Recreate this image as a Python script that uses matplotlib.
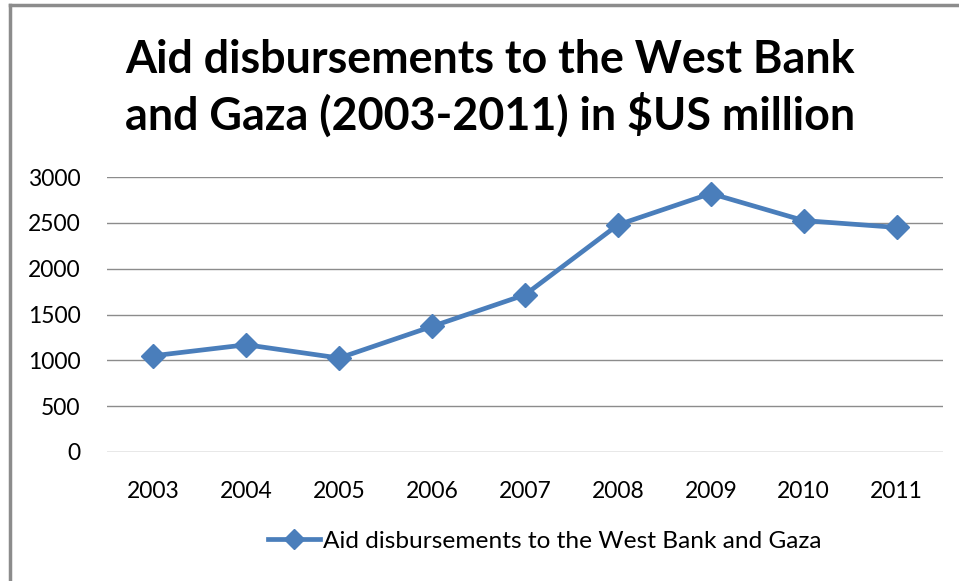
import matplotlib
matplotlib.use("Agg")
import matplotlib.pyplot as plt
from matplotlib.lines import Line2D

plt.rcParams['font.family'] = ['Lato', 'DejaVu Sans']

# data
years = ['2003', '2004', '2005', '2006', '2007', '2008', '2009', '2010', '2011']
aid = [1050, 1170, 1025, 1370, 1715, 2478, 2820, 2525, 2450]
series_name = 'Aid disbursements to the West Bank and Gaza'
title = 'Aid disbursements to the West Bank\nand Gaza (2003-2011) in $US million'

blue = '#4A7EBB'
grid_col = '#8C8C8C'

fig = plt.figure(figsize=(9.59, 5.81), dpi=100)
ax = fig.add_axes([107 / 959, 1 - 452 / 581, 836 / 959, 275 / 581])

x = list(range(len(years)))
ax.plot(x, aid, color=blue, lw=3.4, marker='D', ms=12, mec=blue, mfc=blue,
        solid_joinstyle='round', zorder=3)

ax.set_xlim(-0.5, len(years) - 0.5)
ax.set_ylim(0, 3000)
ax.set_yticks(range(0, 3001, 500))
ax.set_xticks(x)
ax.set_xticklabels(years)
ax.tick_params(length=0, labelsize=16.5, colors='black')
ax.tick_params(axis='y', pad=19)
ax.tick_params(axis='x', pad=21)
ax.grid(axis='y', color=grid_col, lw=1)
ax.set_axisbelow(True)
for s in ax.spines.values():
    s.set_visible(False)

fig.text(490 / 959, 1 - 88.5 / 581, title, ha='center', va='center',
         fontsize=32.3, fontweight='bold', linespacing=1.3)

# legend
h = Line2D([], [], color=blue, lw=3.4, marker='D', ms=10)
fig.legend([h], [series_name], loc='center', bbox_to_anchor=(545 / 959, 1 - 541 / 581),
           frameon=False, fontsize=17.6, handlelength=2.1, handletextpad=0.15)

# outer frame (left and top edges only, as in the crop)
fig.add_artist(Line2D([10 / 959, 10 / 959], [0, 1 - 5 / 581], color='#8C8C8C', lw=2.5))
fig.add_artist(Line2D([10 / 959, 958 / 959], [1 - 5 / 581, 1 - 5 / 581], color='#8C8C8C', lw=2.5))

fig.savefig('out.png', dpi=100, facecolor='white')
